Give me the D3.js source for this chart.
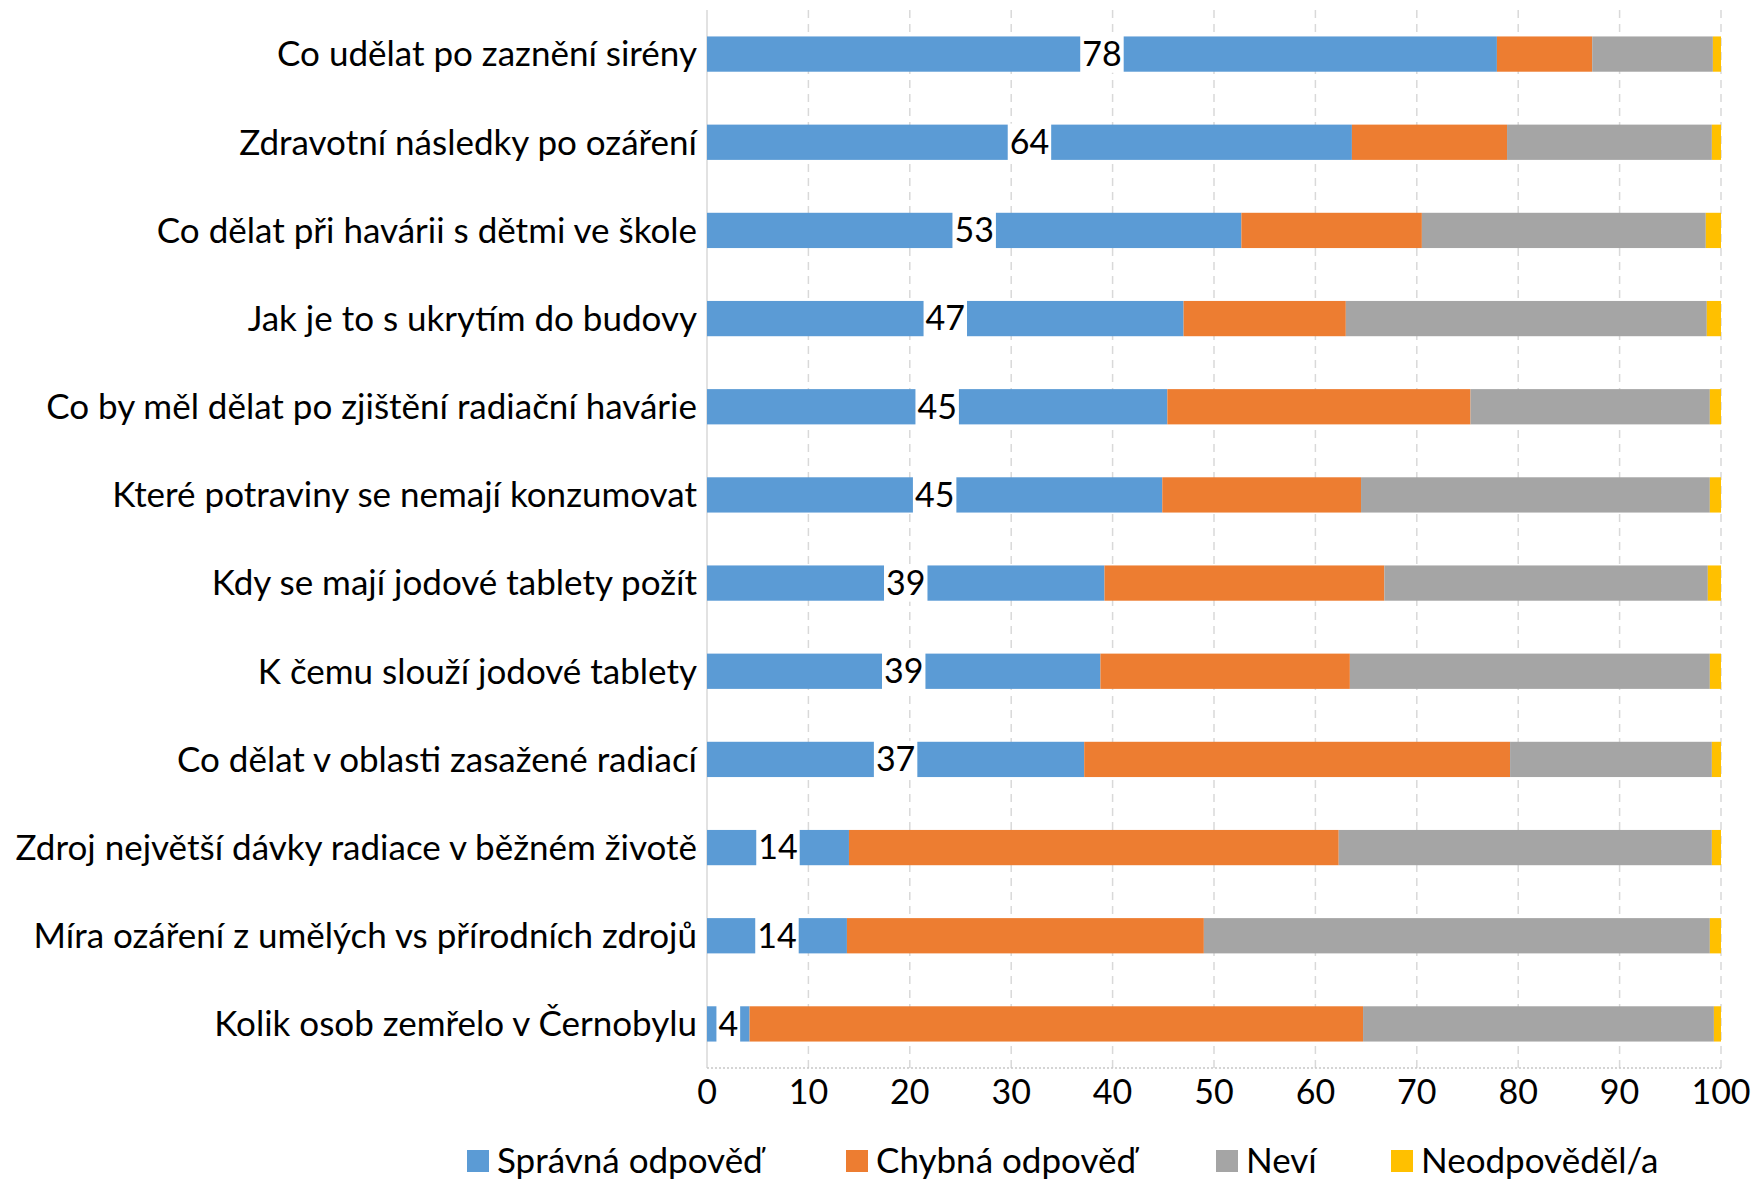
<!DOCTYPE html>
<html><head><meta charset="utf-8">
<script src="https://cdn.jsdelivr.net/npm/d3@7"></script>
<style>body{margin:0;background:#fff;} svg{display:block;font-family:Lato, "Open Sans", sans-serif;}</style>
</head><body>
<svg id="c" width="1757" height="1179"></svg>
<script>
const categories = [
  "Co udělat po zaznění sirény",
  "Zdravotní následky po ozáření",
  "Co dělat při havárii s dětmi ve škole",
  "Jak je to s ukrytím do budovy",
  "Co by měl dělat po zjištění radiační havárie",
  "Které potraviny se nemají konzumovat",
  "Kdy se mají jodové tablety požít",
  "K čemu slouží jodové tablety",
  "Co dělat v oblasti zasažené radiací",
  "Zdroj největší dávky radiace v běžném životě",
  "Míra ozáření z umělých vs přírodních zdrojů",
  "Kolik osob zemřelo v Černobylu"
];
const seriesNames = ["Správná odpověď", "Chybná odpověď", "Neví", "Neodpověděl/a"];
const correct  = [77.9, 63.6, 52.7, 47.0, 45.4, 44.9, 39.2, 38.8, 37.2, 14.0, 13.8, 4.2];
const wrong    = [9.4, 15.3, 17.8, 16.0, 29.9, 19.6, 27.6, 24.6, 42.0, 48.3, 35.2, 60.5];
const dontKnow = [11.9, 20.2, 28.0, 35.6, 23.6, 34.4, 31.9, 35.5, 19.9, 36.8, 49.9, 34.6];
const noAnswer = [0.8, 0.9, 1.5, 1.4, 1.1, 1.1, 1.3, 1.1, 0.9, 0.9, 1.1, 0.7];
const correctLabels = ["78", "64", "53", "47", "45", "45", "39", "39", "37", "14", "14", "4"];
const xTicks = [0, 10, 20, 30, 40, 50, 60, 70, 80, 90, 100];
const colors = ["#5B9BD5", "#ED7D31", "#A5A5A5", "#FFC000"];

(function () {
const svg = d3.select("#c");
const pL = 707, pR = 1721, pT = 10, pB = 1068;
const fs = 35;
const x = d3.scaleLinear().domain([0, 100]).range([pL, pR]);
const y = d3.scaleBand().domain(categories).range([pT, pB]).paddingInner(0.6).paddingOuter(0.3);

// gridlines
svg.append("g").selectAll("line").data(xTicks.slice(1)).join("line")
  .attr("x1", d => x(d)).attr("x2", d => x(d)).attr("y1", pT).attr("y2", pB)
  .attr("stroke", "#d9d9d9").attr("stroke-width", 1.5).attr("stroke-dasharray", "8,6");
// left axis line
svg.append("line").attr("x1", pL).attr("x2", pL).attr("y1", pT).attr("y2", pB)
  .attr("stroke", "#d9d9d9").attr("stroke-width", 1.5);
// bottom axis line (dotted)
svg.append("line").attr("x1", pL).attr("x2", pR).attr("y1", pB).attr("y2", pB)
  .attr("stroke", "#c8c8c8").attr("stroke-width", 1.5).attr("stroke-dasharray", "2,2");

const rows = categories.map((c, i) => ({cat: c, vals: [correct[i], wrong[i], dontKnow[i], noAnswer[i]]}));
const stacked = d3.stack().keys([0,1,2,3]).value((d, k) => d.vals[k])(rows);

svg.append("g").selectAll("g").data(stacked).join("g")
  .attr("fill", (d, i) => colors[i])
  .selectAll("rect").data(d => d).join("rect")
  .attr("x", d => x(d[0])).attr("width", d => x(d[1]) - x(d[0]))
  .attr("y", d => y(d.data.cat)).attr("height", y.bandwidth());

// data labels on correct series
const lab = svg.append("g");
rows.forEach((r, i) => {
  const cx = x(correct[i] / 2);
  const cy = y(r.cat) + y.bandwidth() / 2;
  const t = lab.append("text").attr("x", cx).attr("y", cy).attr("dy", "0.35em")
    .attr("text-anchor", "middle").attr("font-size", fs - 1).attr("fill", "#000").text(correctLabels[i]);
  const w = t.node().getComputedTextLength();
  lab.insert("rect", "text").attr("x", cx - w / 2 - 2).attr("y", y(r.cat) - 1)
    .attr("width", w + 4).attr("height", y.bandwidth() + 2).attr("fill", "#fff");
});

// category labels
svg.append("g").selectAll("text").data(categories).join("text")
  .attr("x", pL - 10).attr("y", d => y(d) + y.bandwidth() / 2).attr("dy", "0.35em")
  .attr("text-anchor", "end").attr("font-size", fs).attr("fill", "#000").text(d => d);

// x tick labels
svg.append("g").selectAll("text").data(xTicks).join("text")
  .attr("x", d => x(d)).attr("y", 1092).attr("dy", "0.35em")
  .attr("text-anchor", "middle").attr("font-size", fs - 1).attr("fill", "#000").text(d => d);

// legend
const legendX = [467, 846, 1216, 1391];
const lg = svg.append("g").selectAll("g").data(seriesNames).join("g")
  .attr("transform", (d, i) => `translate(${legendX[i]},1161)`);
lg.append("rect").attr("x", 0).attr("y", -11).attr("width", 22).attr("height", 22).attr("fill", (d, i) => colors[i]);
lg.append("text").attr("x", 30).attr("y", 0).attr("dy", "0.35em").attr("font-size", fs).attr("fill", "#000").text(d => d);
})();
</script>
</body></html>
